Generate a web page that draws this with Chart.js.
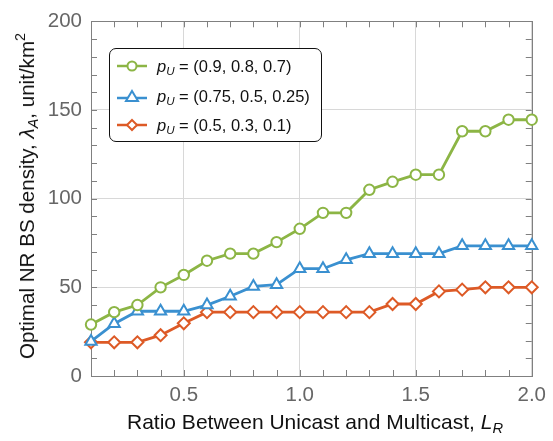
<!DOCTYPE html>
<html><head><meta charset="utf-8">
<script src="https://cdn.jsdelivr.net/npm/chart.js@4/dist/chart.umd.min.js"></script>
<style>
html,body{margin:0;padding:0;background:#fff;}
#wrap{position:relative;width:553px;height:441px;font-family:"Liberation Sans",Arial,sans-serif;}
canvas{position:absolute;left:0;top:0;}
.yt{position:absolute;left:27px;top:196px;transform:translate(-50%,-50%) rotate(-90deg);white-space:nowrap;font-size:20.6px;color:#111;}
.xt{position:absolute;left:315px;top:422px;transform:translate(-50%,-50%);white-space:nowrap;font-size:21px;color:#111;}
.lg{position:absolute;left:109px;top:48px;width:213px;height:94px;border:1.5px solid #111;border-radius:7px;background:#fff;box-sizing:border-box;}
.row{position:absolute;left:0;height:24px;display:flex;align-items:center;font-size:16.5px;color:#111;white-space:nowrap;}
.row svg{margin-left:7px;margin-right:10px;}
i{font-style:italic;}
sub{font-size:70%;vertical-align:-0.3em;line-height:0;}
sup{font-size:70%;vertical-align:0.6em;line-height:0;}
</style></head>
<body><div id="wrap">
<canvas id="c" width="553" height="441"></canvas>
<div class="yt">Optimal NR BS density, <i>λ</i><sub><i>A</i></sub>, unit/km<sup>2</sup></div>
<div class="xt">Ratio Between Unicast and Multicast, <i>L</i><sub><i>R</i></sub></div>
<div class="lg">
 <div class="row" style="top:5px"><svg width="30" height="14"><line x1="0" y1="7" x2="30" y2="7" stroke="#8CB545" stroke-width="2.5"/><circle cx="15" cy="7" r="4.5" fill="#fff" stroke="#8CB545" stroke-width="2"/></svg><span><i>p</i><sub><i>U</i></sub> = (0.9, 0.8, 0.7)</span></div>
 <div class="row" style="top:35px"><svg width="30" height="14"><line x1="0" y1="9" x2="30" y2="9" stroke="#3A90D0" stroke-width="2.5"/><polygon points="15,2 21,12 9,12" fill="#fff" stroke="#3A90D0" stroke-width="2"/></svg><span><i>p</i><sub><i>U</i></sub> = (0.75, 0.5, 0.25)</span></div>
 <div class="row" style="top:64px"><svg width="30" height="14"><line x1="0" y1="7" x2="30" y2="7" stroke="#DD5A26" stroke-width="2.5"/><polygon points="15,2 20,7 15,12 10,7" fill="#fff" stroke="#DD5A26" stroke-width="2"/></svg><span><i>p</i><sub><i>U</i></sub> = (0.5, 0.3, 0.1)</span></div>
</div>
</div>
<script>
const ratios = [0.1,0.2,0.3,0.4,0.5,0.6,0.7,0.8,0.9,1.0,1.1,1.2,1.3,1.4,1.5,1.6,1.7,1.8,1.9,2.0];
const seriesHigh = [29,36,40,50,57,65,69,69,75.5,83,92,92,105,109.5,113.5,113.5,138,138,144.5,144.5];
const seriesMid  = [19.5,29.5,36.5,36.5,36.5,40,45,50.5,51.5,60.5,60.5,65.5,69,69,69,69,73.4,73.4,73.4,73.4];
const seriesLow  = [19,19,19,23,29.7,36,36,36,36,36,36,36,36,40.6,40.6,47.7,48.7,50,50,50];
const xTickLabels = ["0.5","1.0","1.5","2.0"];
const yTickLabels = ["0","50","100","150","200"];
const seriesNames = ["pU = (0.9, 0.8, 0.7)","pU = (0.75, 0.5, 0.25)","pU = (0.5, 0.3, 0.1)"];

const GREEN="#8CB545", BLUE="#3A90D0", RED="#DD5A26";
function pts(arr){return ratios.map((x,i)=>({x:x,y:arr[i]}));}
function ds(label,arr,color,style,r){
  return {label:label,data:pts(arr),borderColor:color,backgroundColor:"#fff",borderWidth:2.8,
    pointStyle:style,pointRadius:r,pointBorderWidth:2,pointBackgroundColor:"#fff",pointBorderColor:color,tension:0,clip:false};
}

const frame={id:"frame",
  beforeDatasetsDraw(chart){
    const {ctx,chartArea:a,scales:{x,y}}=chart;
    ctx.save();
    ctx.strokeStyle="#808080";ctx.lineWidth=1;
    ctx.beginPath();
    for(let v=0;v<=200;v+=10){const py=Math.round(y.getPixelForValue(v))+0.5;
      ctx.moveTo(a.left,py);ctx.lineTo(a.left+6,py);ctx.moveTo(a.right,py);ctx.lineTo(a.right-6,py);}
    ratios.forEach(v=>{const px=Math.round(x.getPixelForValue(v))+0.5;
      ctx.moveTo(px,a.bottom);ctx.lineTo(px,a.bottom-6);ctx.moveTo(px,a.top);ctx.lineTo(px,a.top+6);});
    ctx.stroke();
    ctx.strokeRect(Math.round(a.left)+0.5,Math.round(a.top)+0.5,Math.round(a.right-a.left),Math.round(a.bottom-a.top));
    ctx.restore();
  }};

new Chart(document.getElementById("c"),{
  type:"line",
  data:{datasets:[ds(seriesNames[0],seriesHigh,GREEN,"circle",5.2),ds(seriesNames[1],seriesMid,BLUE,"triangle",6.5),ds(seriesNames[2],seriesLow,RED,"rectRot",6)]},
  options:{responsive:false,animation:false,devicePixelRatio:1,
    layout:{padding:{left:0,top:17,right:14,bottom:0}},
    plugins:{legend:{display:false},tooltip:{enabled:false}},
    scales:{
      x:{type:"linear",min:0.1,max:2.0,
        afterBuildTicks(s){s.ticks=[0.5,1.0,1.5,2.0].map(v=>({value:v}));},
        afterFit(s){s.height=65;},
        grid:{color:"#d8d8d8",lineWidth:1,drawTicks:false},
        border:{display:false},
        ticks:{padding:7,color:"#666",font:{family:"Liberation Sans",size:20.5},maxRotation:0,
          callback:(v,i)=>xTickLabels[i]}},
      y:{min:0,max:200,
        afterBuildTicks(s){s.ticks=[0,50,100,150,200].map(v=>({value:v}));},
        afterFit(s){s.width=91;},
        grid:{color:"#d8d8d8",lineWidth:1,drawTicks:false},
        border:{display:false},
        ticks:{padding:9,color:"#666",font:{family:"Liberation Sans",size:20.5},
          callback:(v,i)=>yTickLabels[i]}}
    }},
  plugins:[frame]
});
</script>
</body></html>
